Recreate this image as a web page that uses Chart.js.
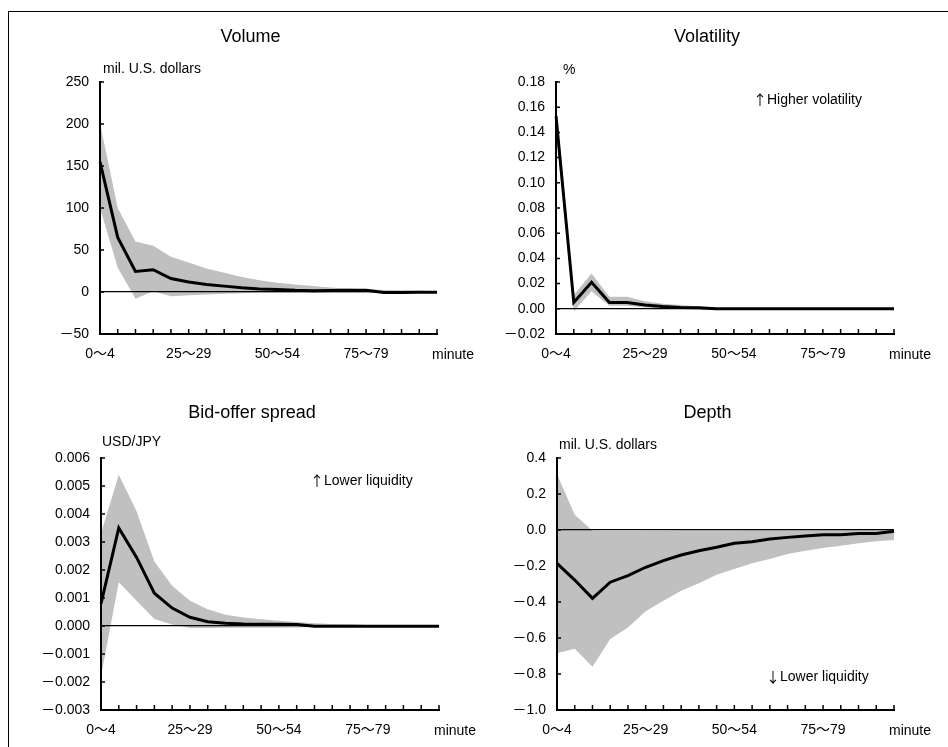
<!DOCTYPE html>
<html>
<head>
<meta charset="utf-8">
<script src="https://cdn.jsdelivr.net/npm/chart.js@4.4.1/dist/chart.umd.min.js"></script>
<style>
  body { margin: 0; background: #fff; }
  #page { position: relative; width: 948px; height: 747px; overflow: hidden; background: #fff; }
  #frame { position: absolute; left: 8px; top: 11px; width: 1000px; height: 800px;
           border-left: 1.5px solid #000; border-top: 1.5px solid #000; }
  canvas { position: absolute; }
</style>
</head>
<body>
<div id="page">
  <div id="frame"></div>
  <canvas id="volume" width="460" height="355" style="left:20px;top:10px"></canvas>
  <canvas id="volatility" width="460" height="355" style="left:480px;top:10px"></canvas>
  <canvas id="spread" width="460" height="365" style="left:20px;top:372px"></canvas>
  <canvas id="depth" width="460" height="365" style="left:480px;top:372px"></canvas>
</div>
<script>
const FONT = "'Liberation Sans', 'Noto Sans CJK JP', sans-serif";

// minutes after the event, 5-minute buckets
const minutes = ["0～4", "5～9", "10～14", "15～19", "20～24", "25～29", "30～34", "35～39", "40～44", "45～49",
                 "50～54", "55～59", "60～64", "65～69", "70～74", "75～79", "80～84", "85～89", "90～94", "95～99"];
const shownLabels = ["0～4", "25～29", "50～54", "75～79"];

// Volume (mil. U.S. dollars)
const volume = [155, 65, 24.5, 26.5, 16, 12, 9, 7, 5, 3.5, 3, 2, 1.5, 1.8, 2, 2.2, -0.5, -0.5, -0.3, -0.4];
const volumeHi = [201, 100, 60, 55, 42, 35, 28, 23, 18, 14, 11, 9, 7, 5.5, 4.2, 3.2, 2.5, 2, 1.5, 1];
const volumeLo = [100, 29, -8, 1, -5, -4, -3, -2, -1.5, -1, -0.8, -0.8, -0.8, -0.8, -0.8, -0.8, -1, -1, -1, -1];

// Volatility (%)
const volat = [0.153, 0.005, 0.021, 0.005, 0.005, 0.003, 0.0018, 0.001, 0.0008, 0, 0, 0, 0, 0, 0, 0, 0, 0, 0, 0];
const volatHi = [0.163, 0.011, 0.028, 0.0095, 0.0095, 0.006, 0.004, 0.003, 0.002, 0.0007, 0.0004, 0.0003, 0.0003,
                 0.0003, 0.0003, 0.0003, 0.0003, 0.0003, 0.0003, 0.0003];
const volatLo = [0.142, -0.002, 0.014, 0.0025, 0.0025, 0.001, 0.0003, 0, 0, -0.0002, -0.0002, -0.0002, -0.0002,
                 -0.0002, -0.0002, -0.0002, -0.0002, -0.0002, -0.0002, -0.0002];

// Bid-offer spread (USD/JPY)
const spread = [0.0008, 0.0035, 0.00245, 0.00117, 0.00064, 0.00031, 0.00015, 0.0001, 0.00007, 0.00006, 0.00006,
                0.00005, -0.00001, -0.00001, -0.00001, -0.00001, -0.00001, -0.00001, -0.00001, -0.00001];
const spreadHi = [0.0033, 0.0054, 0.0041, 0.0023, 0.00144, 0.0009, 0.0006, 0.0004, 0.0003, 0.00024, 0.00019,
                  0.00014, 0.0001, 0.00007, 0.00006, 0.00004, 0.00003, 0.00003, 0.00003, 0.00003];
const spreadLo = [-0.0018, 0.00156, 0.0009, 0.00025, 0.00005, -0.00007, -0.00007, -0.00006, -0.00006, -0.00006,
                  -0.00006, -0.00005, -0.00003, -0.00002, -0.00002, -0.00002, -0.00002, -0.00002, -0.00002, -0.00002];

// Depth (mil. U.S. dollars)
const depth = [-0.185, -0.278, -0.38, -0.29, -0.254, -0.207, -0.17, -0.139, -0.115, -0.096, -0.074, -0.065, -0.05,
               -0.041, -0.033, -0.026, -0.026, -0.019, -0.019, -0.007];
const depthHi = [0.31, 0.085, -0.004, -0.006, -0.005, -0.004, -0.004, -0.003, -0.003, -0.003, -0.003, -0.002,
                 -0.002, -0.002, -0.002, -0.001, -0.001, -0.001, -0.001, -0.001];
const depthLo = [-0.685, -0.66, -0.76, -0.605, -0.541, -0.452, -0.393, -0.337, -0.296, -0.248, -0.217, -0.185,
                 -0.161, -0.133, -0.115, -0.1, -0.087, -0.074, -0.063, -0.056];

Chart.defaults.font.family = FONT;
Chart.defaults.font.size = 14;
Chart.defaults.color = "#000";

// tick marks pointing into the plot
const innerTicks = {
  id: "innerTicks",
  afterDraw(chart) {
    const { ctx, chartArea: a, scales: { x, y } } = chart;
    ctx.save();
    ctx.strokeStyle = "#000";
    ctx.lineWidth = 1.5;
    ctx.beginPath();
    y.ticks.forEach((t, i) => {
      const py = y.getPixelForTick(i);
      ctx.moveTo(a.left, py);
      ctx.lineTo(a.left + 4, py);
    });
    x.ticks.forEach((t, i) => {
      const px = x.getPixelForTick(i);
      ctx.moveTo(px, a.bottom);
      ctx.lineTo(px, a.bottom - 5);
    });
    ctx.stroke();
    ctx.restore();
  },
};

// title, unit label, note and "minute"
const panelText = {
  id: "panelText",
  afterDraw(chart, args, opts) {
    const { ctx, chartArea: a } = chart;
    ctx.save();
    ctx.fillStyle = "#000";
    ctx.textBaseline = "middle";

    ctx.textAlign = "center";
    ctx.font = "18px " + FONT;
    ctx.fillText(opts.title, (a.left + a.right) / 2 - 18, a.top - 45);

    ctx.font = "14px " + FONT;
    ctx.textAlign = "left";
    ctx.fillText(opts.unit, a.left + opts.unitDx, a.top - opts.unitDy);
    if (opts.note) {
      const nx = a.left + opts.noteDx;
      const ny = a.top + opts.noteDy;
      ctx.font = "14px 'Noto Sans CJK JP'";
      ctx.textAlign = "center";
      ctx.fillText(opts.arrow, nx + 4, ny);
      ctx.font = "14px " + FONT;
      ctx.textAlign = "left";
      ctx.fillText(opts.note, nx + 11, ny);
    }
    ctx.textAlign = "center";
    ctx.fillText("minute", a.right + 16, a.bottom + 21);
    ctx.restore();
  },
};

function makePanel(id, p) {
  const ctx = document.getElementById(id).getContext("2d");
  return new Chart(ctx, {
    type: "line",
    data: {
      labels: minutes,
      datasets: [
        { data: p.line, borderColor: "#000", borderWidth: 3, pointRadius: 0, fill: false },
        { data: p.hi, borderColor: "rgba(0,0,0,0)", borderWidth: 0, pointRadius: 0,
          backgroundColor: "#c0c0c0", fill: "+1" },
        { data: p.lo, borderColor: "rgba(0,0,0,0)", borderWidth: 0, pointRadius: 0, fill: false },
      ],
    },
    options: {
      responsive: false,
      animation: false,
      layout: { padding: { left: 0, right: p.padR, top: p.padT, bottom: 0 } },
      plugins: {
        legend: { display: false },
        tooltip: { enabled: false },
        panelText: p.text,
      },
      scales: {
        x: {
          afterFit: (s) => { s.height = p.xHeight; },
          grid: { color: "rgba(0,0,0,0)", drawTicks: false },
          border: { color: "#000", width: 2 },
          ticks: {
            autoSkip: false,
            maxRotation: 0,
            minRotation: 0,
            padding: 12,
            font: { size: 14 },
            callback: function (v, i) {
              const lab = this.getLabelForValue(v);
              return shownLabels.includes(lab) ? lab : "";
            },
          },
        },
        y: {
          min: p.min,
          max: p.max,
          afterFit: (s) => { s.width = p.yWidth; },
          grid: {
            z: 1,
            drawTicks: false,
            lineWidth: 1.2,
            color: (c) => (Math.abs(c.tick.value) < 1e-9 ? "#000" : "rgba(0,0,0,0)"),
          },
          border: { color: "#000", width: 2, z: 1 },
          ticks: {
            stepSize: p.step,
            padding: 11,
            font: { size: 14 },
            callback: (v) => (v < -1e-9 ? "－" + Math.abs(v).toFixed(p.dec) : Math.abs(v).toFixed(p.dec)),
          },
        },
      },
    },
    plugins: [innerTicks, panelText],
  });
}

makePanel("volume", {
  line: volume, hi: volumeHi, lo: volumeLo,
  min: -50, max: 250, step: 50, dec: 0,
  padR: 43, padT: 72, yWidth: 80, xHeight: 31,
  text: { title: "Volume", unit: "mil. U.S. dollars", unitDx: 3, unitDy: 13 },
});

makePanel("volatility", {
  line: volat, hi: volatHi, lo: volatLo,
  min: -0.02, max: 0.18, step: 0.02, dec: 2,
  padR: 46, padT: 72, yWidth: 76, xHeight: 31,
  text: { title: "Volatility", unit: "%", unitDx: 7, unitDy: 12,
          arrow: "↑", note: "Higher volatility", noteDx: 200, noteDy: 18 },
});

makePanel("spread", {
  line: spread, hi: spreadHi, lo: spreadLo,
  min: -0.003, max: 0.006, step: 0.001, dec: 3,
  padR: 41, padT: 86, yWidth: 81, xHeight: 27,
  text: { title: "Bid-offer spread", unit: "USD/JPY", unitDx: 1, unitDy: 16,
          arrow: "↑", note: "Lower liquidity", noteDx: 212, noteDy: 23 },
});

makePanel("depth", {
  line: depth, hi: depthHi, lo: depthLo,
  min: -1.0, max: 0.4, step: 0.2, dec: 1,
  padR: 46, padT: 86, yWidth: 77, xHeight: 27,
  text: { title: "Depth", unit: "mil. U.S. dollars", unitDx: 2, unitDy: 13,
          arrow: "↓", note: "Lower liquidity", noteDx: 212, noteDy: 219 },
});
</script>
</body>
</html>
